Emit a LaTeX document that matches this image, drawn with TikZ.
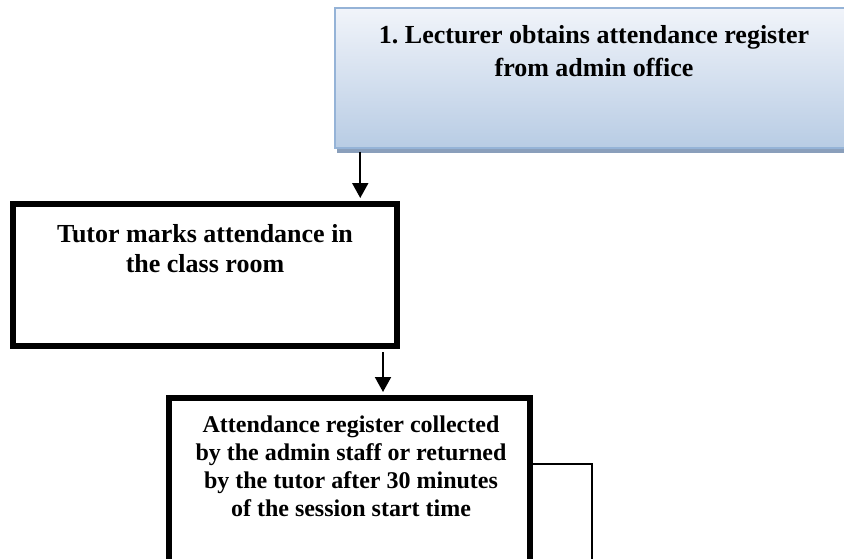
\documentclass[tikz,border=0pt]{standalone}
\usepackage{fontspec}
\setmainfont{Liberation Serif}
\usetikzlibrary{shadows,arrows.meta}
\definecolor{boxtop}{HTML}{F1F4FA}
\definecolor{boxbottom}{HTML}{B8CCE4}
\definecolor{boxline}{HTML}{95B3D7}
\definecolor{boxshadow}{HTML}{8A9FBB}
\tikzset{
  stepbox/.style = {draw, line width = 6pt, fill = white, inner sep = 0pt},
  steptext/.style = {anchor = north, align = center, inner sep = 0pt, font = \bfseries},
  flow/.style = {line width = 2pt, -{Triangle[length = 15pt, width = 16pt]}, shorten >= 3pt}
}
\begin{document}
\begin{tikzpicture}[x = 1pt, y = -1pt]
        \useasboundingbox (0, 0) rectangle (844, 558);
        \clip (0, 0) rectangle (844, 558);
        \fill[white] (0, 0) rectangle (844, 558);

        \node[draw = boxline, line width = 1.5pt, top color = boxtop, bottom color = boxbottom,
          drop shadow = {shadow xshift = 2pt, shadow yshift = -5pt, fill = boxshadow, opacity = 1},
          minimum width = 517pt, minimum height = 140pt, inner sep = 0pt] (lecturer) at (593.5, 78) {};
        \node[steptext, font = \bfseries\fontsize{26}{33}\selectfont] (lecturertext) at (594, 25)
          {1.\ Lecturer obtains attendance register\\from admin office};

        \node[stepbox, minimum width = 384pt, minimum height = 142pt] (tutor) at (205, 275) {};
        \node[steptext, font = \bfseries\fontsize{26}{30}\selectfont] (tutortext) at (205, 224)
          {Tutor marks attendance in\\the class room};

        \node[stepbox, minimum width = 361pt, minimum height = 177pt] (register) at (349.5, 486.5) {};
        \node[steptext, font = \bfseries\fontsize{24}{28}\selectfont] (registertext) at (351, 416)
          {Attendance register collected\\by the admin staff or returned\\by the tutor after 30 minutes\\of the session start time};

        \coordinate (registerout) at (592, 570);

        \draw[flow] ([xshift = 26pt, yshift = -3pt]lecturer.south west) -- ([xshift = 26pt]lecturer.south west |- tutor.north);
        \draw[flow] ([xshift = -17pt, yshift = -3pt]tutor.south east) -- ([xshift = -17pt]tutor.south east |- register.north);
        \draw[line width = 2pt] (register.east |- 0, 464) -| (registerout);
      \end{tikzpicture}
\end{document}
